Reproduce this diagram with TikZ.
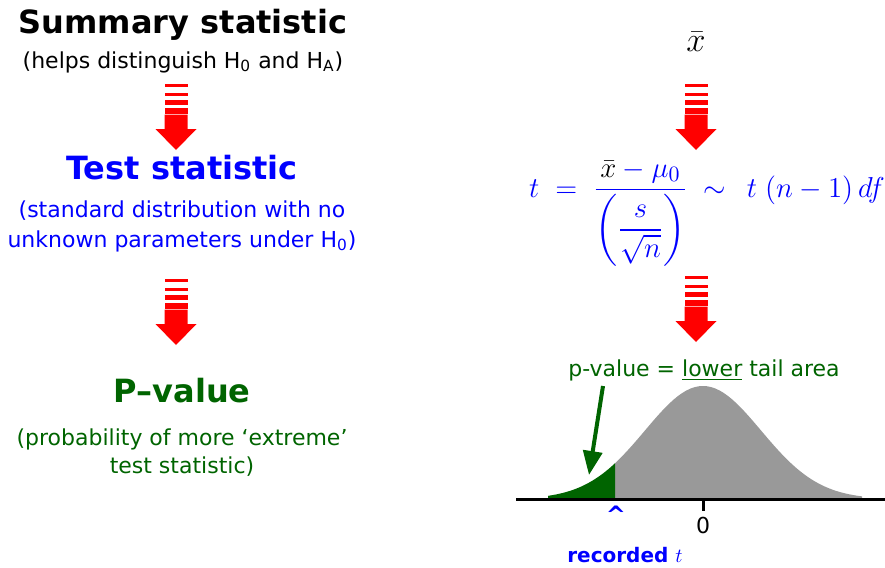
\documentclass[tikz,border=0pt]{standalone}
\usepackage{amsmath,amssymb}
\usepackage{fontspec}
\setmainfont{DejaVu Sans}
\usepackage{tikz}
\usetikzlibrary{arrows.meta}
\definecolor{TestBlue}{RGB}{0,0,255}
\definecolor{PvalGreen}{RGB}{0,100,0}
\definecolor{ArrowRed}{RGB}{255,0,0}
\definecolor{TailGray}{RGB}{153,153,153}

\begin{document}
\begin{tikzpicture}[x=0.5pt,y=-0.5pt,>=Latex,
  heading/.style={font=\fontsize{16}{19}\selectfont\bfseries},
  remark/.style={font=\fontsize{11}{15}\selectfont,align=center},
  eqn/.style={TestBlue,font=\fontsize{15}{18}\selectfont},
  density/.style={domain=#1,samples=60,variable=\x}]
  \useasboundingbox (0,0) rectangle (885,568);
  % left column
  \node[heading] (summary) at (183,25) {Summary statistic};
  \node[remark] (helps) at (183,62) {(helps distinguish H\textsubscript{0} and H\textsubscript{A})};
  \node[heading,TestBlue] (test) at (182,168) {Test statistic};
  \node[remark,TestBlue] (stdnote) at (182,226) {(standard distribution with no\\unknown parameters under H\textsubscript{0})};
  \node[heading,PvalGreen] (pval) at (182,391) {P--value};
  \node[remark,PvalGreen,font=\fontsize{11}{14}\selectfont] (probnote) at (182,453) {(probability of more `extreme'\\test statistic)};
  % red block arrows
  \foreach \ax/\ay in {176/84,176/279,696/84,696/276}{
    \foreach \ya/\yb in {0/2.7,8.7/11.7,16/20.7,24/29.7}
      \fill[ArrowRed] (\ax-11.5,\ay+\ya) rectangle (\ax+11.5,\ay+\yb);
    \fill[ArrowRed] (\ax-11.5,\ay+30.7) -- (\ax+11.5,\ay+30.7) -- (\ax+11.5,\ay+45)
      -- (\ax+20.5,\ay+45) -- (\ax,\ay+66) -- (\ax-20.5,\ay+45) -- (\ax-11.5,\ay+45) -- cycle;
  }
  % right column
  \node[font=\fontsize{16}{19}\selectfont] (xbar) at (696,42) {$\bar{x}$};
  \node[eqn,anchor=base west] (tstat) at (522,197)
    {$t \;=\; \dfrac{{\color{black}\bar{x}}-\mu_0}{\left(\dfrac{s}{\sqrt{n}}\right)} \;\sim\;\, t\;(n-1)\,df$};
  % t density with lower tail
  \fill[TailGray] (615,499) -- plot[density=615:862] (\x,{499-113*exp(-0.5*((\x-703)/58)*((\x-703)/58))}) -- (862,499) -- cycle;
  \fill[PvalGreen] (548,499) -- plot[density=548:615] (\x,{499-113*exp(-0.5*((\x-703)/58)*((\x-703)/58))}) -- (615,499) -- cycle;
  \coordinate (axisL) at (516,499);
  \coordinate (axisR) at (885,499);
  \coordinate (zerotick) at (703,511);
  \draw[line width=1.5pt] (axisL) -- (axisR);
  \draw[line width=1.5pt] (703,499) -- (zerotick);
  \node[font=\fontsize{11}{13}\selectfont] (zero) at (703,525) {0};
  \node[TestBlue,font=\fontsize{12}{14}\selectfont\bfseries] (caret) at (616,515) {\textasciicircum};
  \node[TestBlue,font=\fontsize{10}{12}\selectfont\bfseries] (recorded) at (625,555) {recorded $t$};
  \node[PvalGreen,font=\fontsize{11}{13}\selectfont] (plabel) at (704,370) {p-value = \underline{lower} tail area};
  \coordinate (ptail) at (603,386);
  \coordinate (ptip) at (589,475);
  \draw[PvalGreen,line width=2pt,-{Triangle[width=9.5pt,length=12pt]}] (ptail) -- (ptip);
\end{tikzpicture}
\end{document}
